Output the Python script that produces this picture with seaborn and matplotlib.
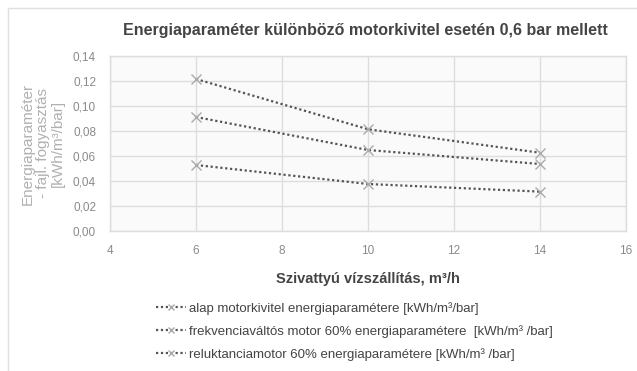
import matplotlib
matplotlib.use("Agg")
import matplotlib.pyplot as plt
import seaborn as sns
import pandas as pd
from matplotlib.patches import Rectangle

flow = [6, 10, 14]
alap = [0.1216, 0.0814, 0.0626]
frekv = [0.0912, 0.0648, 0.0536]
reluk = [0.0528, 0.0376, 0.0315]
series_names = [
    "alap motorkivitel energiaparamétere [kWh/m³/bar]",
    "frekvenciaváltós motor 60% energiaparamétere  [kWh/m³ /bar]",
    "reluktanciamotor 60% energiaparamétere [kWh/m³ /bar]",
]
x_ticks = [4, 6, 8, 10, 12, 14, 16]
y_ticks = [0.00, 0.02, 0.04, 0.06, 0.08, 0.10, 0.12, 0.14]

rows = []
for name, vals in zip(series_names, [alap, frekv, reluk]):
    for x, v in zip(flow, vals):
        rows.append({"flow": x, "value": v, "series": name})
df = pd.DataFrame(rows)

sns.set_theme(style="white")
plt.rcParams['font.family'] = ['Liberation Sans', 'DejaVu Sans']

fig = plt.figure(figsize=(6.37, 3.71), dpi=100)
ax = fig.add_axes([110/637, 1-231/371, (626-110)/637, (231-56)/371])
ax.set_facecolor("#fafafa")

fig.patches.append(Rectangle((8/637, -0.1), 1.0, 1-8/371+0.1, transform=fig.transFigure,
                             fill=False, edgecolor="#e0e0e0", lw=1.0))

for name in series_names:
    sub = df[df["series"] == name]
    sns.lineplot(data=sub, x="flow", y="value", ax=ax, color="#555555",
                 linestyle=(0, (1, 1.2)), lw=1.6, marker="x", markersize=7,
                 markeredgecolor="#aaaaaa", markeredgewidth=1.0, label=name, legend=False)

ax.set_xlim(4, 16)
ax.set_ylim(0, 0.14)
ax.set_xticks(x_ticks)
ax.set_xticklabels([str(t) for t in x_ticks])
ax.set_yticks(y_ticks)
ax.set_yticklabels([f"{t:.2f}".replace(".", ",") for t in y_ticks])
ax.tick_params(axis="both", labelsize=8.5, colors="#8a8a8a", length=0)
ax.tick_params(axis="x", pad=10)
ax.tick_params(axis="y", pad=10)
ax.grid(True, color="#dddddd", lw=1.0)
for s in ax.spines.values():
    s.set_color("#dddddd")
    s.set_linewidth(1.0)

ax.set_xlabel("Szivattyú vízszállítás, m³/h", fontsize=10.5, fontweight="bold",
              color="#444444", labelpad=11)
ax.set_ylabel("Energiaparaméter\n- fajl. fogyasztás\n[kWh/m³/bar]", fontsize=11,
              color="#b0b0b0", labelpad=6, linespacing=1.1)
fig.text(365/637, 1-30/371, "Energiaparaméter különböző motorkivitel esetén 0,6 bar mellett",
         ha="center", va="center", fontsize=11.5, fontweight="bold", color="#444444")

handles, labels = ax.get_legend_handles_labels()
leg = fig.legend(handles, labels, loc="upper left", bbox_to_anchor=(156/637, 1-302/371),
                 frameon=False, fontsize=9.5, handlelength=2.3, handletextpad=0.2,
                 labelspacing=0.78, labelcolor="#444444", borderaxespad=0, borderpad=0)
for h in leg.legend_handles:
    h.set_markersize(5)

fig.savefig("out.png", dpi=100)
